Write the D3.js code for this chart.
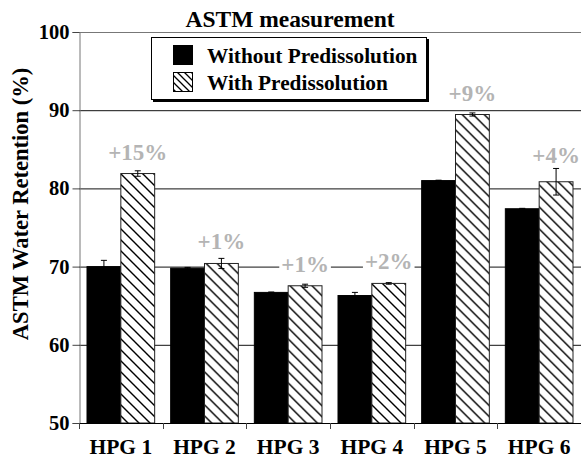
<!DOCTYPE html>
<html><head><meta charset="utf-8">
<script src="https://cdn.jsdelivr.net/npm/d3@7"></script>
<style>body{margin:0;background:#fff}svg{display:block}
svg text{font-family:"Liberation Serif","Times New Roman",Times,Tinos,"DejaVu Serif",serif;font-weight:bold}</style>
</head><body>
<script>
const categories = ["HPG 1","HPG 2","HPG 3","HPG 4","HPG 5","HPG 6"];
const seriesNames = ["Without Predissolution","With Predissolution"];
const without = [70.0, 69.8, 66.7, 66.3, 81.0, 77.4];
const withP = [81.9, 70.4, 67.55, 67.85, 89.45, 80.85];
const errWithout = [0.8, 0.1, 0.05, 0.4, 0.05, 0.05];
const errWith = [0.35, 0.65, 0.2, 0.1, 0.2, 1.7];
const gainLabels = ["+15%","+1%","+1%","+2%","+9%","+4%"];
const yTicks = [50,60,70,80,90,100];

(function(){
const W = 581, H = 461;
const svg = d3.select("body").append("svg").attr("width", W).attr("height", H);
const defs = svg.append("defs");
defs.append("pattern").attr("id","hatch").attr("patternUnits","userSpaceOnUse")
  .attr("width",11).attr("height",11)
  .append("path").attr("d","M0,0L11,11M-3,8L3,14M8,-3L14,3")
  .attr("stroke","#000").attr("stroke-width",1.4);
defs.append("pattern").attr("id","hatchS").attr("patternUnits","userSpaceOnUse")
  .attr("width",7).attr("height",7)
  .append("path").attr("d","M0,0L7,7M-2,5L2,9M5,-2L9,2")
  .attr("stroke","#000").attr("stroke-width",1.3);

const pL = 79, pR = 581, pT = 32, pB = 423;
const y = d3.scaleLinear().domain([50,100]).range([pB, pT]);
const x0 = d3.scaleBand().domain(categories).range([pL, pR]).padding(0);
const x1 = d3.scaleBand().domain(seriesNames).range([8, x0.bandwidth()-8]).padding(0);

// gridlines
svg.append("g").selectAll("line").data(yTicks.filter(t=>t>50)).join("line")
  .attr("x1",pL).attr("x2",pR).attr("y1",d=>y(d)+0.5).attr("y2",d=>y(d)+0.5)
  .attr("stroke",d=>d===100?"#777":"#111").attr("stroke-width",1);

// y axis
const yAxis = svg.append("g").attr("transform",`translate(${pL+0.5},0)`)
  .call(d3.axisLeft(y).tickValues(yTicks).tickSize(7).tickPadding(3));
yAxis.attr("font-family",null);
yAxis.select(".domain").attr("stroke","#777");
yAxis.selectAll(".tick line").attr("stroke","#444");
yAxis.selectAll("text").attr("font-size","20.5px").attr("fill","#000");

const data = categories.map((c,i)=>({c, vals:[
  {s:seriesNames[0], v:without[i], e:errWithout[i]},
  {s:seriesNames[1], v:withP[i], e:errWith[i]}], label:gainLabels[i]}));

const groups = svg.append("g").selectAll("g").data(data).join("g")
  .attr("transform",d=>`translate(${x0(d.c)},0)`);
groups.each(function(d){
  const g = d3.select(this);
  d.vals.forEach((v,i)=>{
    const bx = x1(v.s), bw = x1.bandwidth();
    if(i===1) g.append("rect").attr("x",bx).attr("y",y(v.v)).attr("width",bw).attr("height",y(50)-y(v.v)).attr("fill","#fff");
    g.append("rect").attr("x",bx).attr("y",y(v.v)).attr("width",bw).attr("height",y(50)-y(v.v))
      .attr("fill",i===0?"#000":"url(#hatch)").attr("stroke",i===0?"#000":"#222").attr("stroke-width",1);
  });
  d.vals.forEach(v=>{
    const cx = x1(v.s)+x1.bandwidth()/2;
    const e = g.append("g").attr("stroke","#000").attr("stroke-width",1);
    e.append("line").attr("x1",cx).attr("x2",cx).attr("y1",y(v.v+v.e)).attr("y2",y(v.v-v.e));
    e.append("line").attr("x1",cx-3).attr("x2",cx+3).attr("y1",y(v.v+v.e)).attr("y2",y(v.v+v.e));
    e.append("line").attr("x1",cx-3).attr("x2",cx+3).attr("y1",y(v.v-v.e)).attr("y2",y(v.v-v.e));
  });
});

// x axis bottom
svg.append("line").attr("x1",pL).attr("x2",pR).attr("y1",pB+0.5).attr("y2",pB+0.5).attr("stroke","#000");
svg.append("g").selectAll("line").data(categories).join("line")
  .attr("x1",d=>Math.round(x0(d))+0.5).attr("x2",d=>Math.round(x0(d))+0.5)
  .attr("y1",pB).attr("y2",pB+6).attr("stroke","#444");
svg.append("g").selectAll("text").data(categories).join("text")
  .attr("x",d=>x0(d)+x0.bandwidth()/2).attr("y",pB+31)
  .attr("text-anchor","middle").attr("font-size","21.5px").text(d=>d);

// gain labels
groups.each(function(d){
  const hv = d.vals[1];
  const cx = x1(hv.s)+x1.bandwidth()/2;
  const base = Math.min(y(hv.v)-14, y(hv.v+hv.e)-5);
  const g = d3.select(this).append("g");
  const t = g.append("text").attr("x",cx).attr("y",base).attr("text-anchor","middle")
    .attr("font-size","23px").attr("fill","#b4b4b4").text(d.label);
  const bb = t.node().getBBox();
  g.insert("rect","text").attr("x",bb.x-2).attr("y",bb.y+3).attr("width",bb.width+4).attr("height",bb.height-6).attr("fill","#fff");
});

// title
svg.append("text").attr("x",290).attr("y",27).attr("text-anchor","middle")
  .attr("font-size","23.5px").text("ASTM measurement");

// y title
svg.append("text").attr("transform","translate(28,204) rotate(-90)").attr("text-anchor","middle")
  .attr("font-size","22.5px").text("ASTM Water Retention (%)");

// legend
const lg = svg.append("g");
lg.append("rect").attr("x",153).attr("y",39).attr("width",276).attr("height",63).attr("fill","#000");
lg.append("rect").attr("x",151.5).attr("y",37.5).attr("width",275).attr("height",62).attr("fill","#fff").attr("stroke","#000").attr("stroke-width",1);
seriesNames.forEach((s,i)=>{
  const yy = 45 + i*27;
  lg.append("rect").attr("x",173.5).attr("y",yy+0.5).attr("width",19).attr("height",19)
    .attr("fill",i===0?"#000":"url(#hatchS)").attr("stroke","#000");
  lg.append("text").attr("x",207).attr("y",yy+18).attr("font-size","21.3px").text(s);
});
})();
</script>
</body></html>
